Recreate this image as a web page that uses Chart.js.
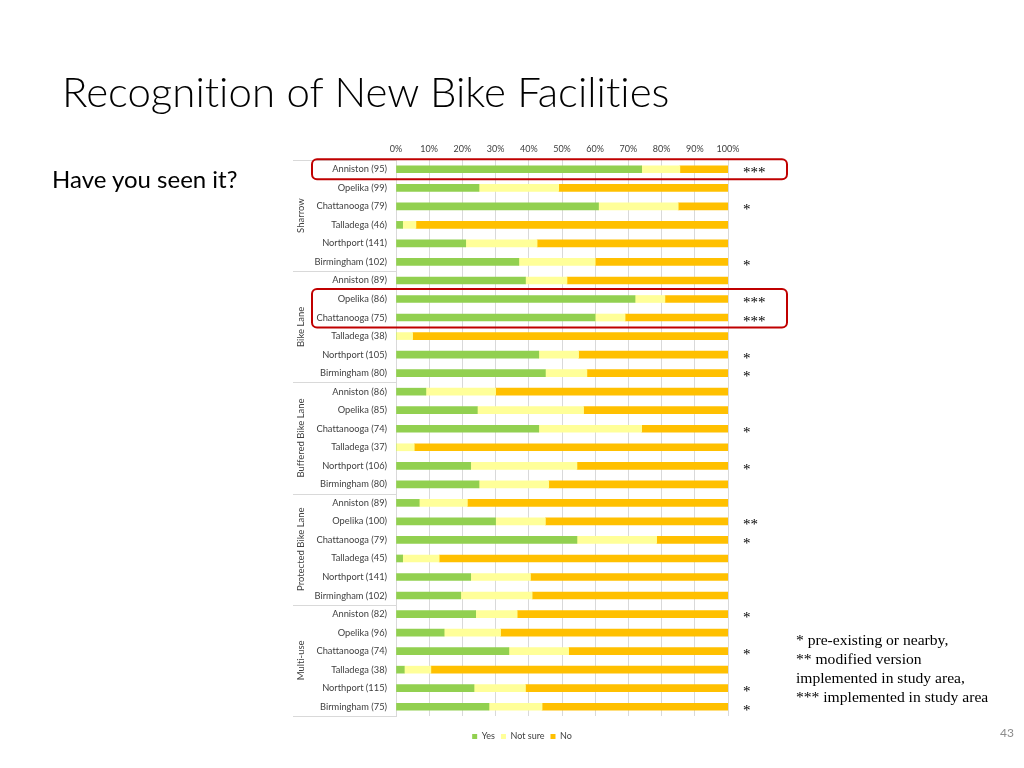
<!DOCTYPE html>
<html>
<head>
<meta charset="utf-8">
<script src="https://cdn.jsdelivr.net/npm/chart.js@4.4.1/dist/chart.umd.min.js"></script>
<style>
  body { margin: 0; background: #fff; }
  #page { position: relative; width: 1024px; height: 768px; overflow: hidden; background: #fff; font-family: Lato, "Open Sans", sans-serif; font-variant-ligatures: none; }
  #chart { position: absolute; left: 0; top: 0; }
  .title { position: absolute; left: 62px; top: 70px; font-weight: 300; font-size: 42px; line-height: 42px; color: #000; white-space: nowrap; }
  .subtitle { position: absolute; left: 52px; top: 167px; font-size: 24px; line-height: 24px; color: #000; white-space: nowrap; }
  .note { position: absolute; left: 796px; top: 630px; font-family: "Liberation Serif", "DejaVu Serif", serif; font-size: 15.6px; line-height: 19px; color: #000; white-space: nowrap; }
  .pagenum { position: absolute; left: 1000px; top: 726px; font-size: 12px; line-height: 14px; color: #8c8c8c; }
</style>
</head>
<body>
<div id="page">
  <canvas id="chart" width="1024" height="768"></canvas>
  <div class="title">Recognition of New Bike Facilities</div>
  <div class="subtitle">Have you seen it?</div>
  <div class="note">* pre-existing or nearby,<br>** modified version<br>implemented in study area,<br>*** implemented in study area</div>
  <div class="pagenum">43</div>
</div>
<script>
//? DATA
const cities = [
    'Anniston (95)', 'Opelika (99)', 'Chattanooga (79)', 'Talladega (46)', 'Northport (141)', 'Birmingham (102)',
    'Anniston (89)', 'Opelika (86)', 'Chattanooga (75)', 'Talladega (38)', 'Northport (105)', 'Birmingham (80)',
    'Anniston (86)', 'Opelika (85)', 'Chattanooga (74)', 'Talladega (37)', 'Northport (106)', 'Birmingham (80)',
    'Anniston (89)', 'Opelika (100)', 'Chattanooga (79)', 'Talladega (45)', 'Northport (141)', 'Birmingham (102)',
    'Anniston (82)', 'Opelika (96)', 'Chattanooga (74)', 'Talladega (38)', 'Northport (115)', 'Birmingham (75)'
];
const yesPct = [
    74, 25, 61, 2, 21, 37,
    39, 72, 60, 0, 43, 45,
    9, 24.5, 43, 0, 22.5, 25,
    7, 30, 54.5, 2, 22.5, 19.5,
    24, 14.5, 34, 2.5, 23.5, 28
];
const notSurePct = [
    11.5, 24, 24, 4, 21.5, 23,
    12.5, 9, 9, 5, 12, 12.5,
    21, 32, 31, 5.5, 32, 21,
    14.5, 15, 24, 11, 18, 21.5,
    12.5, 17, 18, 8, 15.5, 16
];
const noPct = [
    14.5, 51, 15, 94, 57.5, 40,
    48.5, 19, 31, 95, 45, 42.5,
    70, 43.5, 26, 94.5, 45.5, 54,
    78.5, 55, 21.5, 87, 59.5, 59,
    63.5, 68.5, 48, 89.5, 61, 56
];
const stars = [
    '***', '', '*', '', '', '*',
    '', '***', '***', '', '*', '*',
    '', '', '*', '', '*', '',
    '', '**', '*', '', '', '',
    '*', '', '*', '', '*', '*'
];
const groupNames = ['Sharrow', 'Bike Lane', 'Buffered Bike Lane', 'Protected Bike Lane', 'Multi-use'];
const groupSizes = [6, 6, 6, 6, 6];
const highlightRows = [[0, 0], [7, 8]];
const seriesNames = ['Yes', 'Not sure', 'No'];

const GREEN = '#92d050';
const PALE = '#ffff99';
const ORANGE = '#ffc000';
const GRID = '#d9d9d9';
const LABEL = '#404040';

//? extra drawing: group labels, separators, stars, red boxes
const extrasPlugin = {
    id: 'extras',
    afterLayout(chart) {
        // legend sits a bit right of centre and a little lower
        const lg = chart.legend;
        lg.left += 13;
        lg.right += 13;
        lg.top += 10;
        lg.bottom += 10;
    },
    afterDraw(chart) {
        const { ctx, chartArea } = chart;
        const y = chart.scales.y;
        const gap = y.getPixelForValue(1) - y.getPixelForValue(0);
        ctx.save();

        let start = 0;
        groupSizes.forEach((n, g) => {
            const top = y.getPixelForValue(start) - gap / 2;
            const bot = y.getPixelForValue(start + n - 1) + gap / 2;
            ctx.strokeStyle = GRID;
            ctx.lineWidth = 1;
            ctx.beginPath();
            ctx.moveTo(chartArea.left - 103, Math.round(top) + 0.5);
            ctx.lineTo(chartArea.left, Math.round(top) + 0.5);
            if (g === groupSizes.length - 1) {
                ctx.moveTo(chartArea.left - 103, Math.round(bot) + 0.5);
                ctx.lineTo(chartArea.left, Math.round(bot) + 0.5);
            }
            ctx.stroke();

            ctx.save();
            ctx.translate(chartArea.left - 95, (top + bot) / 2);
            ctx.rotate(-Math.PI / 2);
            ctx.fillStyle = LABEL;
            ctx.font = '9.5px Lato';
            ctx.textAlign = 'center';
            ctx.textBaseline = 'middle';
            ctx.fillText(groupNames[g], 0, 0);
            ctx.restore();
            start += n;
        });

        ctx.fillStyle = '#000';
        ctx.font = '15px "Liberation Serif"';
        ctx.textAlign = 'left';
        ctx.textBaseline = 'alphabetic';
        stars.forEach((s, i) => {
            if (s) ctx.fillText(s, chartArea.right + 15, y.getPixelForValue(i) + 8);
        });

        ctx.strokeStyle = '#c00000';
        ctx.lineWidth = 2;
        highlightRows.forEach(([a, b]) => {
            const x0 = chartArea.left - 84;
            const x1 = chartArea.right + 59;
            const y0 = y.getPixelForValue(a) - 10;
            const y1 = y.getPixelForValue(b) + 10;
            ctx.beginPath();
            ctx.roundRect(x0, y0, x1 - x0, y1 - y0, 5);
            ctx.stroke();
        });
        ctx.restore();
    }
};

new Chart(document.getElementById('chart'), {
    type: 'bar',
    data: {
        labels: cities,
        datasets: [
            { label: seriesNames[0], data: yesPct, backgroundColor: GREEN, barThickness: 7 },
            { label: seriesNames[1], data: notSurePct, backgroundColor: PALE, barThickness: 7 },
            { label: seriesNames[2], data: noPct, backgroundColor: ORANGE, barThickness: 7 }
        ]
    },
    options: {
        indexAxis: 'y',
        responsive: false,
        animation: false,
        layout: { padding: { left: 290, right: 296, top: 140, bottom: 27 } },
        scales: {
            x: {
                stacked: true,
                position: 'top',
                min: 0,
                max: 100,
                ticks: {
                    stepSize: 10,
                    callback: v => v + '%',
                    color: LABEL,
                    font: { family: 'Lato', size: 9 },
                    padding: 6,
                    maxRotation: 0
                },
                grid: { color: GRID, drawTicks: false },
                border: { display: false },
                afterFit: s => { s.height = 20; }
            },
            y: {
                stacked: true,
                ticks: {
                    color: LABEL,
                    font: { family: 'Lato', size: 9.3 },
                    padding: 9,
                    autoSkip: false
                },
                grid: { display: false, drawTicks: false },
                border: { display: true, color: GRID },
                afterFit: s => { s.width = 106; }
            }
        },
        plugins: {
            legend: {
                position: 'bottom',
                labels: {
                    boxWidth: 5,
                    boxHeight: 5,
                    color: LABEL,
                    font: { family: 'Lato', size: 9 },
                    padding: 6
                }
            },
            tooltip: { enabled: false }
        }
    },
    plugins: [extrasPlugin]
});
</script>
</body>
</html>
